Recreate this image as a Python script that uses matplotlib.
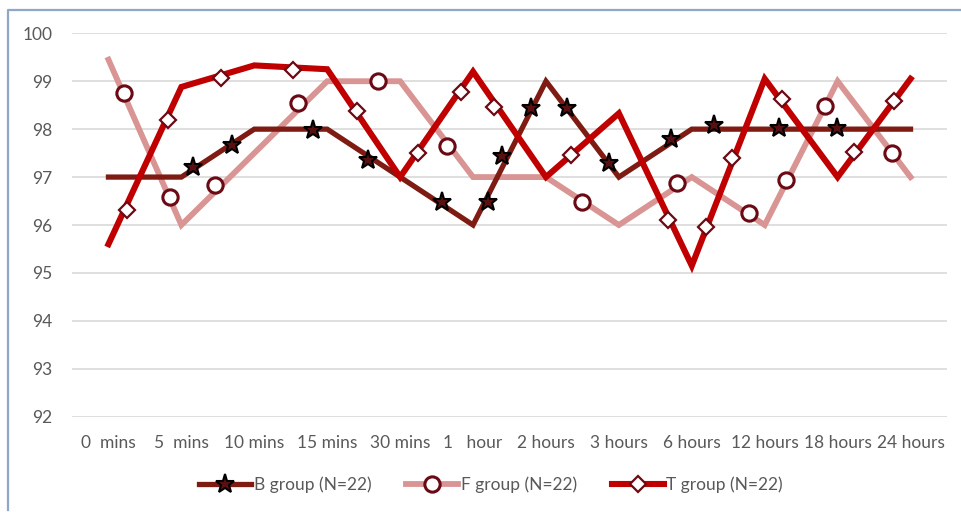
import matplotlib
matplotlib.use("Agg")
import matplotlib.pyplot as plt
from matplotlib.lines import Line2D
import numpy as np

plt.rcParams['font.family'] = ['Lato', 'DejaVu Sans']

categories = ["0  mins", "5  mins", "10 mins", "15 mins", "30 mins", "1   hour",
              "2 hours", "3 hours", "6 hours", "12 hours", "18 hours", "24 hours"]

# line values at each category
b_line = [97.0, 97.0, 98.0, 98.0, 97.0, 96.0, 99.0, 97.0, 98.0, 98.0, 98.0, 98.0]
f_line = [99.45, 96.0, 97.5, 99.0, 99.0, 97.0, 97.0, 96.0, 97.0, 96.0, 99.0, 97.0]
t_line = [95.6, 98.88, 99.33, 99.25, 97.0, 99.2, 97.0, 98.33, 95.15, 99.05, 97.0, 99.05]

# marker positions (in category units) and values, as drawn in the figure
b_mark_x = [1.16, 1.70, 2.80, 3.56, 4.57, 5.20, 5.40, 5.80, 6.29, 6.87, 7.72, 8.30, 9.19, 9.99]
b_mark_y = [97.22, 97.67, 97.99, 97.36, 96.48, 96.48, 97.43, 98.44, 98.44, 97.29, 97.79, 98.09, 98.02, 98.02]

f_mark_x = [0.21, 0.85, 1.46, 2.60, 3.69, 4.64, 6.49, 7.80, 8.78, 9.29, 9.82, 10.74]
f_mark_y = [98.76, 96.59, 96.83, 98.55, 99.0, 97.64, 96.48, 96.87, 96.25, 96.94, 98.49, 97.50]

t_mark_x = [0.26, 0.82, 1.55, 2.53, 3.41, 4.24, 4.84, 5.29, 6.35, 7.68, 8.20, 8.55, 9.24, 10.22, 10.77]
t_mark_y = [96.31, 98.20, 99.07, 99.23, 98.37, 97.50, 98.77, 98.46, 97.46, 96.10, 95.96, 97.39, 98.63, 97.53, 98.58]

series_names = ["B group (N=22)", "F group (N=22)", "T group (N=22)"]

W, H = 961, 512
fig = plt.figure(figsize=(W / 100, H / 100), dpi=100)
ax = fig.add_axes([72 / W, 1 - 416.7 / H, (947 - 72) / W, (416.7 - 33.3) / H])

B_COL = "#7E1C14"
F_COL = "#D99594"
T_COL = "#C00000"
EDGE = "#6B0A14"

x = np.arange(len(categories))
ax.plot(x, f_line, color=F_COL, lw=4.2, zorder=3, solid_joinstyle='miter')
ax.plot(x, b_line, color=B_COL, lw=3.8, zorder=4, solid_joinstyle='miter')
ax.plot(x, t_line, color=T_COL, lw=4.4, zorder=5, solid_joinstyle='miter')

ax.plot(f_mark_x, f_mark_y, ls='none', marker='o', ms=11, mfc='white', mec=EDGE, mew=2.2, zorder=6)
ax.plot(b_mark_x, b_mark_y, ls='none', marker='*', ms=14, mfc='#5A1010', mec='black', mew=1.5, zorder=7)
ax.plot(t_mark_x, t_mark_y, ls='none', marker='D', ms=8, mfc='white', mec=EDGE, mew=1.6, zorder=8)

ax.set_xlim(-0.5, len(categories) - 0.5)
ax.set_ylim(92, 100)
ax.set_yticks(np.arange(92, 101, 1))
ax.set_xticks(x)
ax.set_xticklabels(categories)
ax.yaxis.grid(True, color="#D9D9D9", lw=1.2)
ax.set_axisbelow(True)
for s in ax.spines.values():
    s.set_visible(False)
ax.tick_params(axis='both', length=0, labelsize=12.5, labelcolor="#595959")
ax.tick_params(axis='x', pad=13)
ax.tick_params(axis='y', pad=14)

handles = [
    Line2D([], [], color=B_COL, lw=3.8, marker='*', ms=14, mfc='#5A1010', mec='black', mew=1.5),
    Line2D([], [], color=F_COL, lw=4.2, marker='o', ms=11, mfc='white', mec=EDGE, mew=2.2),
    Line2D([], [], color=T_COL, lw=4.4, marker='D', ms=8, mfc='white', mec=EDGE, mew=1.6),
]
fig.legend(handles, series_names, loc='center', bbox_to_anchor=(491 / W, 1 - 485 / H),
           ncol=3, frameon=False, fontsize=12.5, handlelength=3.0, handletextpad=0.15,
           columnspacing=2.0, labelcolor="#595959")

# outer chart border
fig.add_artist(Line2D([8 / W, 8 / W, 1.0], [1 - 510 / H, 1 - 10 / H, 1 - 10 / H],
                      transform=fig.transFigure, color="#8FA8C8", lw=1.6))

fig.savefig("out.png", dpi=100)
